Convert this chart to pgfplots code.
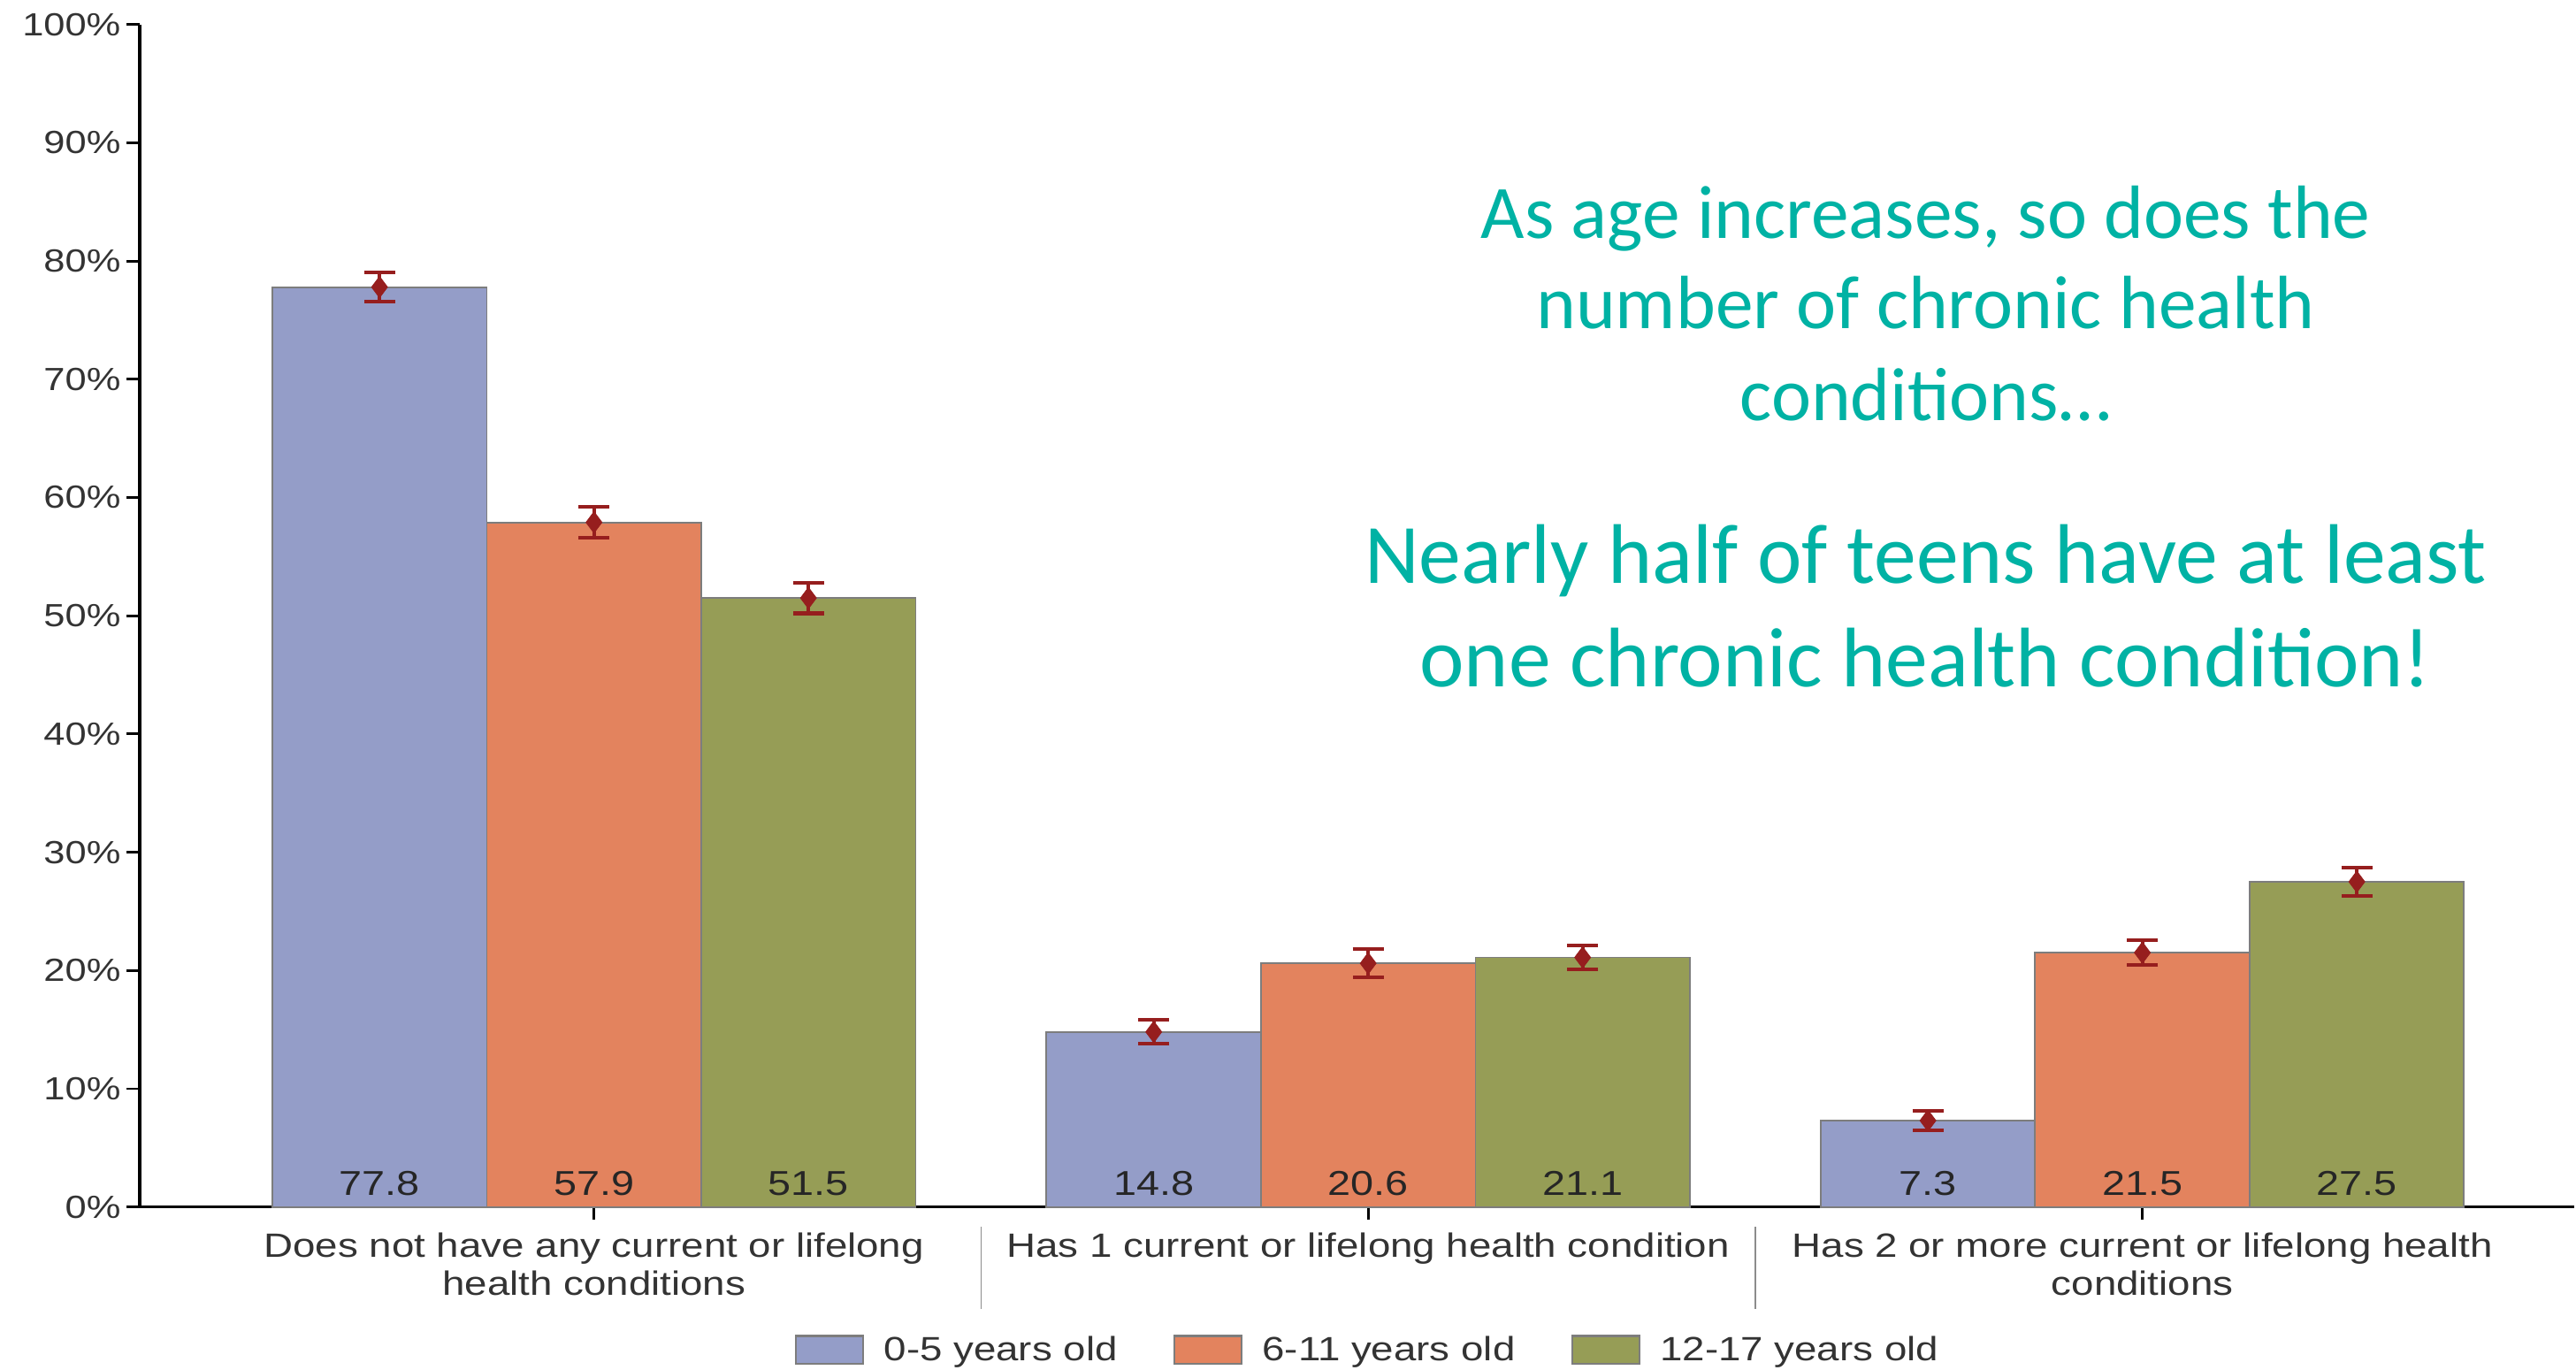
\documentclass[border=0pt]{standalone}
\usepackage{fontspec}
\setmainfont{Liberation Sans}[FakeStretch=1.2]
\newfontfamily\calibri{Carlito}
\usepackage{pgfplots}
\pgfplotsset{compat=1.18}
\definecolor{cblue}{RGB}{148,157,200}
\definecolor{corange}{RGB}{227,131,94}
\definecolor{cgreen}{RGB}{150,157,86}
\definecolor{errred}{RGB}{150,30,30}
\definecolor{tealtxt}{RGB}{0,178,164}
\definecolor{txt}{RGB}{51,51,51}
\definecolor{edge}{RGB}{125,125,125}
\begin{document}
\begin{tikzpicture}
\begin{axis}[
 name=ax,
 scale only axis, width=1483pt, height=720pt,
 xmin=-0.587, xmax=2.558, ymin=0, ymax=100,
 axis lines*=left,
 axis line style={line width=2pt, -},
 clip=false,
 ytick={0,10,...,100},
 yticklabel={\pgfmathprintnumber{\tick}\%},
 /pgf/number format/assume math mode=true,
 yticklabel style={font=\fontsize{19.5}{20}\selectfont, text=txt},
 xtick={0,1,2},
 xticklabels={{Does not have any current or lifelong\\health conditions},{Has 1 current or lifelong health condition},{Has 2 or more current or lifelong health\\conditions}},
 xticklabel style={align=center, font=\fontsize{20.5}{23.5}\selectfont, text=txt, yshift=-4pt},
 tick align=outside,
 major tick length=8pt,
 tick style={line width=1.5pt, black},
 legend style={at={(0.5047,-0.121)}, anchor=center, draw=none, fill=none, legend columns=3,
   font=\fontsize{20.5}{21}\selectfont, text=txt,
   /tikz/every odd column/.append style={column sep=10pt},
   /tikz/every even column/.append style={column sep=32pt}},
 legend image code/.code={\draw[#1,/tikz/.cd,draw=edge,line width=1.2pt] (0pt,-8.5pt) rectangle (41pt,8.5pt);},
]
\addplot[ybar, bar width=0.277, bar shift=-0.277, fill=cblue, draw=edge, line width=1pt]
  coordinates {(0,77.8) (1,14.8) (2,7.3)};
\addlegendentry{0-5 years old}
\addplot[ybar, bar width=0.277, bar shift=0, fill=corange, draw=edge, line width=1pt]
  coordinates {(0,57.9) (1,20.6) (2,21.5)};
\addlegendentry{6-11 years old}
\addplot[ybar, bar width=0.277, bar shift=0.277, fill=cgreen, draw=edge, line width=1pt]
  coordinates {(0,51.5) (1,21.1) (2,27.5)};
\addlegendentry{12-17 years old}

% error bars with diamond markers
\addplot[only marks, mark=diamond*, mark size=6.5pt, color=errred, forget plot,
  error bars/.cd, y dir=both, y explicit,
  error bar style={line width=2.2pt, errred},
  error mark options={rotate=90, mark size=9.5pt, line width=2.2pt, errred}]
  coordinates {
  (-0.277,77.8) +- (0,1.25) (0,57.9) +- (0,1.3) (0.277,51.5) +- (0,1.3)
  (0.723,14.8) +- (0,1.0) (1,20.6) +- (0,1.2) (1.277,21.1) +- (0,1.0)
  (1.723,7.3) +- (0,0.8) (2,21.5) +- (0,1.05) (2.277,27.5) +- (0,1.2)};

% value labels at bar bottoms
\addplot[draw=none, mark=none, forget plot, nodes near coords, point meta=explicit symbolic,
  every node near coord/.append style={anchor=base, yshift=7pt, font=\fontsize{21}{22}\selectfont, text=black!85}]
  coordinates {
  (-0.277,0) [77.8] (0,0) [57.9] (0.277,0) [51.5]
  (0.723,0) [14.8] (1,0) [20.6] (1.277,0) [21.1]
  (1.723,0) [7.3] (2,0) [21.5] (2.277,0) [27.5]};

\draw[black!45, line width=1pt] ([yshift=-12pt]axis cs:0.5,0) -- ([yshift=-62pt]axis cs:0.5,0);
\draw[black!45, line width=1pt] ([yshift=-12pt]axis cs:1.5,0) -- ([yshift=-62pt]axis cs:1.5,0);

\node[anchor=base, text=tealtxt, font=\calibri\fontsize{46}{54}\selectfont] at (axis cs:1.72,81.94) {As age increases, so does the};
\node[anchor=base, text=tealtxt, font=\calibri\fontsize{46}{54}\selectfont] at (axis cs:1.72,74.31) {number of chronic health};
\node[anchor=base, text=tealtxt, font=\calibri\fontsize{46}{54}\selectfont] at (axis cs:1.72,66.53) {conditions\ldots};
\node[anchor=base, text=tealtxt, font=\calibri\fontsize{51.5}{60}\selectfont] at (axis cs:1.72,52.78) {Nearly half of teens have at least};
\node[anchor=base, text=tealtxt, font=\calibri\fontsize{51.5}{60}\selectfont] at (axis cs:1.72,44.03) {one chronic health condition!};
\end{axis}
\path ([shift={(-85pt,-99pt)}]ax.south west) rectangle ([shift={(0pt,15pt)}]ax.north east);
\end{tikzpicture}
\end{document}
